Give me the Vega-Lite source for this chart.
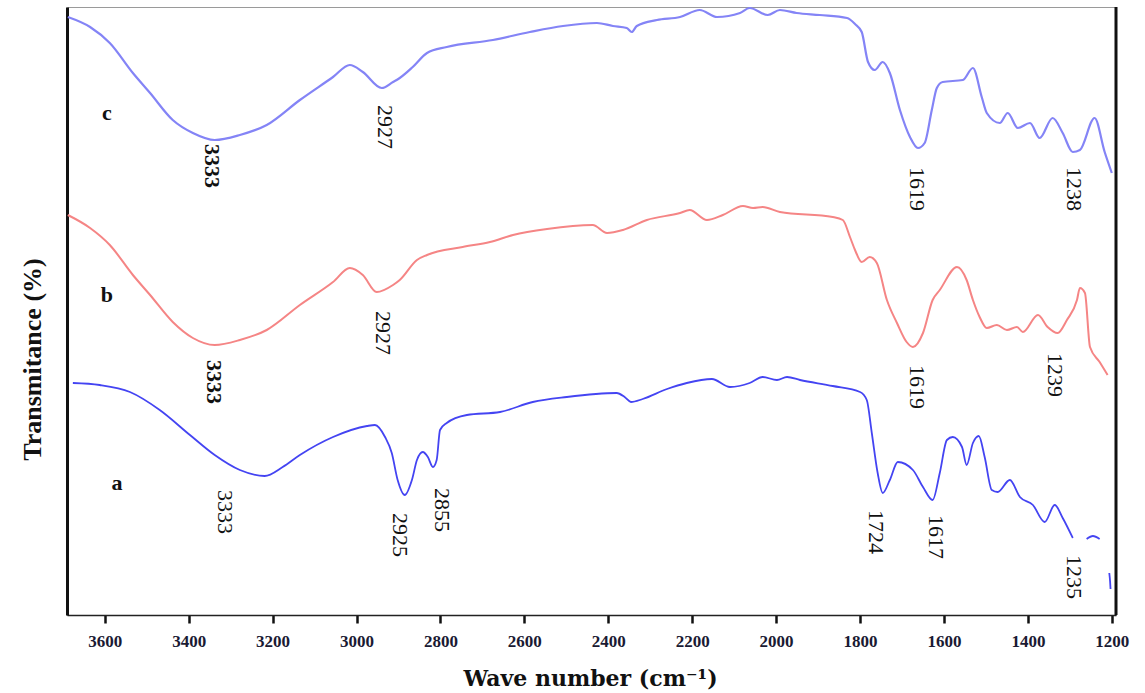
{
  "$schema": "https://vega.github.io/schema/vega-lite/v6.json",
  "width": 1049,
  "height": 608,
  "autosize": "none",
  "padding": {"left": 67, "top": 7, "right": 29, "bottom": 78},
  "background": "white",
  "config": {
    "view": {"stroke": "#9a9a9a", "strokeWidth": 1},
    "axis": {"grid": false}
  },
  "datasets": {
    "spectra": [
      {"s":"c","g":"c","v":3688,"t":598},{"s":"c","g":"c","v":3635,"t":588},{"s":"c","g":"c","v":3588,"t":572},{"s":"c","g":"c","v":3533,"t":542},{"s":"c","g":"c","v":3492,"t":522},{"s":"c","g":"c","v":3438,"t":495},{"s":"c","g":"c","v":3390,"t":482},{"s":"c","g":"c","v":3338,"t":475},{"s":"c","g":"c","v":3278,"t":480},{"s":"c","g":"c","v":3214,"t":490},{"s":"c","g":"c","v":3135,"t":515},{"s":"c","g":"c","v":3056,"t":538},{"s":"c","g":"c","v":3016,"t":550},{"s":"c","g":"c","v":2985,"t":543},{"s":"c","g":"c","v":2940,"t":527},{"s":"c","g":"c","v":2913,"t":533},{"s":"c","g":"c","v":2897,"t":537},{"s":"c","g":"c","v":2866,"t":548},{"s":"c","g":"c","v":2832,"t":562},{"s":"c","g":"c","v":2785,"t":568},{"s":"c","g":"c","v":2675,"t":575},{"s":"c","g":"c","v":2587,"t":583},{"s":"c","g":"c","v":2508,"t":589},{"s":"c","g":"c","v":2427,"t":592},{"s":"c","g":"c","v":2389,"t":589},{"s":"c","g":"c","v":2356,"t":587},{"s":"c","g":"c","v":2344,"t":583},{"s":"c","g":"c","v":2332,"t":589},{"s":"c","g":"c","v":2284,"t":595},{"s":"c","g":"c","v":2229,"t":598},{"s":"c","g":"c","v":2182,"t":605},{"s":"c","g":"c","v":2141,"t":598},{"s":"c","g":"c","v":2086,"t":602},{"s":"c","g":"c","v":2063,"t":607},{"s":"c","g":"c","v":2020,"t":600},{"s":"c","g":"c","v":1991,"t":605},{"s":"c","g":"c","v":1951,"t":602},{"s":"c","g":"c","v":1896,"t":600},{"s":"c","g":"c","v":1831,"t":597},{"s":"c","g":"c","v":1812,"t":591},{"s":"c","g":"c","v":1796,"t":583},{"s":"c","g":"c","v":1781,"t":553},{"s":"c","g":"c","v":1765,"t":545},{"s":"c","g":"c","v":1746,"t":553},{"s":"c","g":"c","v":1729,"t":542},{"s":"c","g":"c","v":1705,"t":505},{"s":"c","g":"c","v":1681,"t":478},{"s":"c","g":"c","v":1662,"t":467},{"s":"c","g":"c","v":1646,"t":472},{"s":"c","g":"c","v":1629,"t":505},{"s":"c","g":"c","v":1617,"t":527},{"s":"c","g":"c","v":1603,"t":533},{"s":"c","g":"c","v":1555,"t":535},{"s":"c","g":"c","v":1531,"t":547},{"s":"c","g":"c","v":1510,"t":518},{"s":"c","g":"c","v":1498,"t":502},{"s":"c","g":"c","v":1467,"t":492},{"s":"c","g":"c","v":1448,"t":502},{"s":"c","g":"c","v":1424,"t":487},{"s":"c","g":"c","v":1395,"t":492},{"s":"c","g":"c","v":1372,"t":477},{"s":"c","g":"c","v":1341,"t":497},{"s":"c","g":"c","v":1317,"t":482},{"s":"c","g":"c","v":1293,"t":463},{"s":"c","g":"c","v":1276,"t":465},{"s":"c","g":"c","v":1241,"t":497},{"s":"c","g":"c","v":1217,"t":463},{"s":"c","g":"c","v":1200,"t":442},
      {"s":"b","g":"b","v":3688,"t":400},{"s":"b","g":"b","v":3635,"t":387},{"s":"b","g":"b","v":3588,"t":370},{"s":"b","g":"b","v":3533,"t":340},{"s":"b","g":"b","v":3492,"t":320},{"s":"b","g":"b","v":3438,"t":293},{"s":"b","g":"b","v":3390,"t":277},{"s":"b","g":"b","v":3338,"t":270},{"s":"b","g":"b","v":3278,"t":275},{"s":"b","g":"b","v":3214,"t":285},{"s":"b","g":"b","v":3135,"t":310},{"s":"b","g":"b","v":3056,"t":333},{"s":"b","g":"b","v":3016,"t":347},{"s":"b","g":"b","v":2985,"t":340},{"s":"b","g":"b","v":2952,"t":323},{"s":"b","g":"b","v":2913,"t":330},{"s":"b","g":"b","v":2897,"t":335},{"s":"b","g":"b","v":2856,"t":355},{"s":"b","g":"b","v":2832,"t":360},{"s":"b","g":"b","v":2747,"t":368},{"s":"b","g":"b","v":2682,"t":373},{"s":"b","g":"b","v":2627,"t":380},{"s":"b","g":"b","v":2546,"t":386},{"s":"b","g":"b","v":2437,"t":390},{"s":"b","g":"b","v":2403,"t":382},{"s":"b","g":"b","v":2365,"t":385},{"s":"b","g":"b","v":2308,"t":395},{"s":"b","g":"b","v":2229,"t":402},{"s":"b","g":"b","v":2206,"t":405},{"s":"b","g":"b","v":2165,"t":395},{"s":"b","g":"b","v":2127,"t":400},{"s":"b","g":"b","v":2079,"t":409},{"s":"b","g":"b","v":2055,"t":407},{"s":"b","g":"b","v":2032,"t":408},{"s":"b","g":"b","v":1991,"t":403},{"s":"b","g":"b","v":1865,"t":398},{"s":"b","g":"b","v":1841,"t":395},{"s":"b","g":"b","v":1824,"t":378},{"s":"b","g":"b","v":1812,"t":365},{"s":"b","g":"b","v":1796,"t":353},{"s":"b","g":"b","v":1777,"t":358},{"s":"b","g":"b","v":1760,"t":352},{"s":"b","g":"b","v":1736,"t":315},{"s":"b","g":"b","v":1712,"t":292},{"s":"b","g":"b","v":1689,"t":273},{"s":"b","g":"b","v":1674,"t":268},{"s":"b","g":"b","v":1650,"t":282},{"s":"b","g":"b","v":1627,"t":315},{"s":"b","g":"b","v":1610,"t":325},{"s":"b","g":"b","v":1569,"t":348},{"s":"b","g":"b","v":1546,"t":335},{"s":"b","g":"b","v":1531,"t":315},{"s":"b","g":"b","v":1515,"t":298},{"s":"b","g":"b","v":1498,"t":287},{"s":"b","g":"b","v":1474,"t":290},{"s":"b","g":"b","v":1450,"t":285},{"s":"b","g":"b","v":1426,"t":288},{"s":"b","g":"b","v":1412,"t":283},{"s":"b","g":"b","v":1376,"t":300},{"s":"b","g":"b","v":1353,"t":288},{"s":"b","g":"b","v":1329,"t":282},{"s":"b","g":"b","v":1307,"t":295},{"s":"b","g":"b","v":1283,"t":315},{"s":"b","g":"b","v":1276,"t":327},{"s":"b","g":"b","v":1264,"t":322},{"s":"b","g":"b","v":1252,"t":268},{"s":"b","g":"b","v":1229,"t":253},{"s":"b","g":"b","v":1210,"t":240},
      {"s":"a","g":"a1","v":3676,"t":232},{"s":"a","g":"a1","v":3612,"t":230},{"s":"a","g":"a1","v":3540,"t":223},{"s":"a","g":"a1","v":3469,"t":205},{"s":"a","g":"a1","v":3397,"t":180},{"s":"a","g":"a1","v":3338,"t":160},{"s":"a","g":"a1","v":3278,"t":145},{"s":"a","g":"a1","v":3219,"t":139},{"s":"a","g":"a1","v":3176,"t":148},{"s":"a","g":"a1","v":3135,"t":160},{"s":"a","g":"a1","v":3056,"t":178},{"s":"a","g":"a1","v":2975,"t":189},{"s":"a","g":"a1","v":2956,"t":190},{"s":"a","g":"a1","v":2932,"t":178},{"s":"a","g":"a1","v":2916,"t":162},{"s":"a","g":"a1","v":2902,"t":135},{"s":"a","g":"a1","v":2885,"t":120},{"s":"a","g":"a1","v":2868,"t":135},{"s":"a","g":"a1","v":2856,"t":155},{"s":"a","g":"a1","v":2842,"t":163},{"s":"a","g":"a1","v":2830,"t":158},{"s":"a","g":"a1","v":2818,"t":148},{"s":"a","g":"a1","v":2809,"t":155},{"s":"a","g":"a1","v":2801,"t":185},{"s":"a","g":"a1","v":2785,"t":192},{"s":"a","g":"a1","v":2737,"t":200},{"s":"a","g":"a1","v":2658,"t":203},{"s":"a","g":"a1","v":2580,"t":213},{"s":"a","g":"a1","v":2499,"t":218},{"s":"a","g":"a1","v":2380,"t":222},{"s":"a","g":"a1","v":2361,"t":218},{"s":"a","g":"a1","v":2346,"t":213},{"s":"a","g":"a1","v":2318,"t":216},{"s":"a","g":"a1","v":2260,"t":226},{"s":"a","g":"a1","v":2213,"t":232},{"s":"a","g":"a1","v":2153,"t":236},{"s":"a","g":"a1","v":2110,"t":228},{"s":"a","g":"a1","v":2063,"t":232},{"s":"a","g":"a1","v":2032,"t":238},{"s":"a","g":"a1","v":1998,"t":235},{"s":"a","g":"a1","v":1974,"t":238},{"s":"a","g":"a1","v":1943,"t":235},{"s":"a","g":"a1","v":1865,"t":229},{"s":"a","g":"a1","v":1800,"t":223},{"s":"a","g":"a1","v":1784,"t":215},{"s":"a","g":"a1","v":1772,"t":182},{"s":"a","g":"a1","v":1758,"t":142},{"s":"a","g":"a1","v":1746,"t":122},{"s":"a","g":"a1","v":1729,"t":135},{"s":"a","g":"a1","v":1710,"t":153},{"s":"a","g":"a1","v":1674,"t":145},{"s":"a","g":"a1","v":1650,"t":128},{"s":"a","g":"a1","v":1627,"t":115},{"s":"a","g":"a1","v":1610,"t":142},{"s":"a","g":"a1","v":1593,"t":175},{"s":"a","g":"a1","v":1579,"t":178},{"s":"a","g":"a1","v":1557,"t":168},{"s":"a","g":"a1","v":1546,"t":150},{"s":"a","g":"a1","v":1531,"t":172},{"s":"a","g":"a1","v":1517,"t":179},{"s":"a","g":"a1","v":1503,"t":158},{"s":"a","g":"a1","v":1486,"t":125},{"s":"a","g":"a1","v":1472,"t":123},{"s":"a","g":"a1","v":1443,"t":135},{"s":"a","g":"a1","v":1419,"t":118},{"s":"a","g":"a1","v":1388,"t":110},{"s":"a","g":"a1","v":1360,"t":93},{"s":"a","g":"a1","v":1336,"t":110},{"s":"a","g":"a1","v":1317,"t":97},{"s":"a","g":"a1","v":1293,"t":77},
      {"s":"a","g":"a2","v":1260,"t":76},{"s":"a","g":"a2","v":1245,"t":79},{"s":"a","g":"a2","v":1229,"t":76},
      {"s":"a","g":"a3","v":1206,"t":42},{"s":"a","g":"a3","v":1204,"t":33},{"s":"a","g":"a3","v":1203,"t":26}
    ],
    "peaks": [
      {"lab":"3333","v":3345,"t":449,"bold":true},
      {"lab":"2927","v":2932,"t":488,"bold":false},
      {"lab":"1619","v":1665,"t":426,"bold":false},
      {"lab":"1238","v":1291,"t":426,"bold":false},
      {"lab":"3333","v":3340,"t":233,"bold":true},
      {"lab":"2927","v":2937,"t":282,"bold":false},
      {"lab":"1619","v":1665,"t":228,"bold":false},
      {"lab":"1239","v":1336,"t":240,"bold":false},
      {"lab":"3333","v":3314,"t":103,"bold":false},
      {"lab":"2925","v":2897,"t":80,"bold":false},
      {"lab":"2855","v":2797,"t":105,"bold":false},
      {"lab":"1724","v":1762,"t":83,"bold":false},
      {"lab":"1617","v":1619,"t":78,"bold":false},
      {"lab":"1235","v":1291,"t":38,"bold":false}
    ],
    "names": [
      {"lab":"c","v":3595,"t":502},
      {"lab":"b","v":3595,"t":320},
      {"lab":"a","v":3571,"t":132}
    ]
  },
  "layer": [
    {
      "data": {"name": "spectra"},
      "mark": {"type": "line", "interpolate": "monotone", "clip": true},
      "encoding": {
        "x": {
          "field": "v", "type": "quantitative",
          "scale": {"domain": [1190, 3690], "reverse": true, "nice": false, "zero": false},
          "axis": {
            "values": [1200,1400,1600,1800,2000,2200,2400,2600,2800,3000,3200,3400,3600],
            "format": "d",
            "title": "Wave number (cm\u207b\u00b9)",
            "titleFont": "DejaVu Serif", "titleFontWeight": "bold", "titleFontSize": 22, "titleColor": "#111",
            "titleX": 523, "titleY": 63, "titleAlign": "center", "titleBaseline": "middle",
            "labelFont": "Liberation Serif", "labelFontWeight": "bold", "labelFontSize": 17, "labelColor": "#1a1a33",
            "labelPadding": 10, "labelOverlap": false,
            "tickSize": 8, "tickWidth": 2.5, "tickColor": "#111",
            "domainColor": "#222", "domainWidth": 1.5
          }
        },
        "y": {
          "field": "t", "type": "quantitative",
          "scale": {"domain": [0, 608], "nice": false, "zero": false},
          "axis": {
            "title": "Transmitance (%)",
            "titleFont": "Liberation Serif", "titleFontWeight": "bold", "titleFontSize": 26, "titleColor": "#111",
            "titleX": -35, "titleY": 352, "titleAngle": 270, "titleAlign": "center", "titleBaseline": "middle",
            "labels": false, "ticks": false,
            "domainColor": "#111", "domainWidth": 3
          }
        },
        "detail": {"field": "g"},
        "color": {"field": "s", "type": "nominal", "scale": {"domain": ["a","b","c"], "range": ["#4444f2","#f58585","#8484f6"]}, "legend": null},
        "strokeWidth": {"field": "s", "type": "nominal", "scale": {"domain": ["a","b","c"], "range": [1.8, 2.2, 2.4]}, "legend": null}
      }
    },
    {
      "data": {"name": "peaks"},
      "transform": [{"filter": "datum.bold"}],
      "mark": {"type": "text", "angle": 90, "align": "center", "baseline": "middle", "font": "Liberation Serif", "fontWeight": "bold", "fontSize": 22, "color": "#111"},
      "encoding": {
        "x": {"field": "v", "type": "quantitative"},
        "y": {"field": "t", "type": "quantitative"},
        "text": {"field": "lab"}
      }
    },
    {
      "data": {"name": "peaks"},
      "transform": [{"filter": "!datum.bold"}],
      "mark": {"type": "text", "angle": 90, "align": "center", "baseline": "middle", "font": "Liberation Serif", "fontSize": 22, "color": "#111"},
      "encoding": {
        "x": {"field": "v", "type": "quantitative"},
        "y": {"field": "t", "type": "quantitative"},
        "text": {"field": "lab"}
      }
    },
    {
      "data": {"name": "names"},
      "mark": {"type": "text", "align": "center", "baseline": "middle", "font": "Liberation Serif", "fontWeight": "bold", "fontSize": 22, "color": "#111"},
      "encoding": {
        "x": {"field": "v", "type": "quantitative"},
        "y": {"field": "t", "type": "quantitative"},
        "text": {"field": "lab"}
      }
    },
    {
      "data": {"values": [{}]},
      "mark": {"type": "rule", "color": "#111", "strokeWidth": 3},
      "encoding": {"x": {"datum": 1190}}
    }
  ]
}
